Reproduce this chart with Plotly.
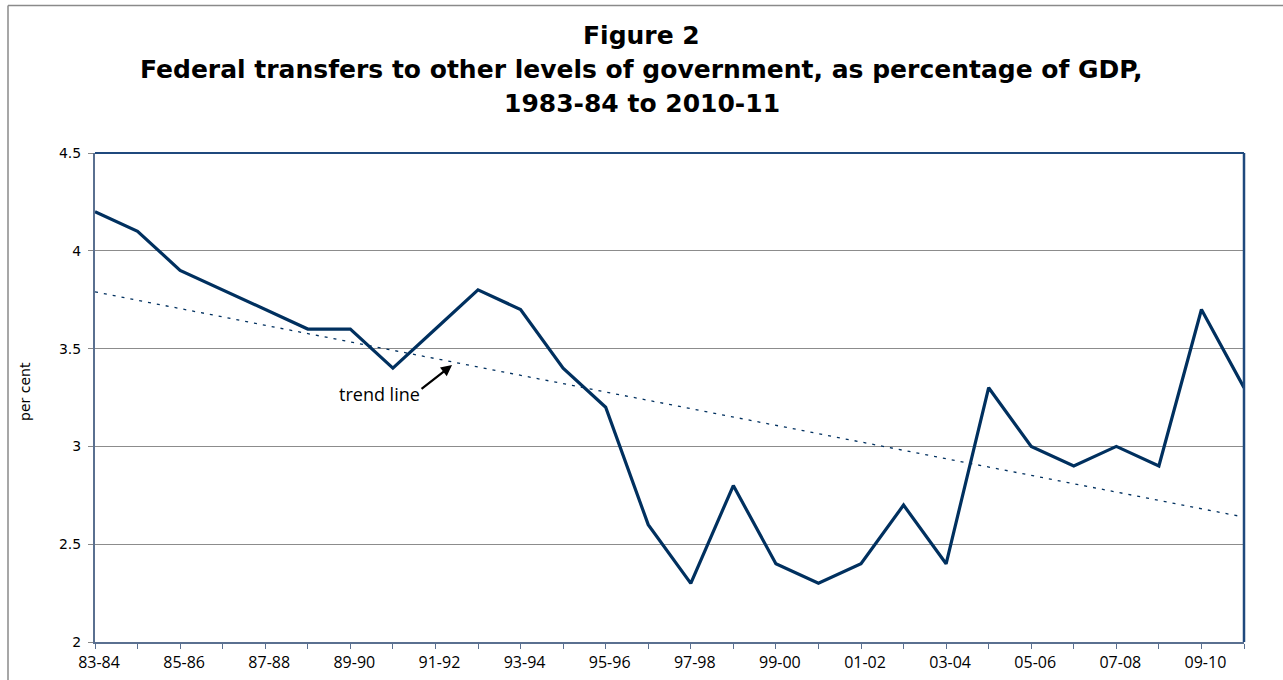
import numpy as np
import plotly.graph_objects as go

# Fiscal years 1983-84 .. 2010-11
years = ["83-84", "84-85", "85-86", "86-87", "87-88", "88-89", "89-90", "90-91",
         "91-92", "92-93", "93-94", "94-95", "95-96", "96-97", "97-98", "98-99",
         "99-00", "00-01", "01-02", "02-03", "03-04", "04-05", "05-06", "06-07",
         "07-08", "08-09", "09-10", "10-11"]

# Federal transfers to other governments, % of GDP
transfers = [4.2, 4.1, 3.9, 3.8, 3.7, 3.6, 3.6, 3.4, 3.6, 3.8, 3.7, 3.4, 3.2, 2.6,
             2.3, 2.8, 2.4, 2.3, 2.4, 2.7, 2.4, 3.3, 3.0, 2.9, 3.0, 2.9, 3.7, 3.3]

y_ticks = [2, 2.5, 3, 3.5, 4, 4.5]

NAVY = "#00305f"
AXIS = "#5a7090"
BORDER = "#1f497d"

W, H = 1283, 680
L, R, T, B = 95, 39, 153, 38
PW, PH = W - L - R, H - T - B


def px_x(px):
    return (px - L) / PW


def px_y(py):
    return (H - B - py) / PH


xi = np.arange(len(years))
slope, intercept = np.polyfit(xi, transfers, 1)
trend = intercept + slope * xi

fig = go.Figure()
fig.add_trace(go.Scatter(x=xi, y=trend, mode="lines",
                         line=dict(color=NAVY, width=1.3, dash="3px,6px"),
                         hoverinfo="skip", showlegend=False))
fig.add_trace(go.Scatter(x=xi, y=transfers, mode="lines",
                         line=dict(color=NAVY, width=3.2), showlegend=False))

tick_text = [lab if i % 2 == 0 else "" for i, lab in enumerate(years)]

fig.update_layout(
    width=W, height=H,
    margin=dict(l=L, r=R, t=T, b=B),
    paper_bgcolor="white", plot_bgcolor="white",
    font=dict(family="Open Sans", color="black"),
    xaxis=dict(range=[0, len(years) - 1], tickmode="array", tickvals=list(xi),
               ticktext=tick_text, ticks="outside", ticklen=5, tickcolor=AXIS,
               showline=True, linecolor=AXIS, linewidth=2, showgrid=False,
               zeroline=False, tickfont=dict(family="Open Sans", size=16),
               ticklabelshift=4, automargin=False, fixedrange=True),
    yaxis=dict(range=[2, 4.5], tickmode="array", tickvals=y_ticks,
               ticktext=[f"{v:g}" for v in y_ticks], ticks="outside", ticklen=5,
               tickcolor="#888888", showline=True, linecolor=AXIS, linewidth=2,
               showgrid=True, gridcolor="#8c8c8c", gridwidth=1, zeroline=False,
               tickfont=dict(family="DejaVu Sans", size=14), ticklabelstandoff=4,
               automargin=False, fixedrange=True),
)

# Right and top frame of the plot area
fig.add_shape(type="line", xref="paper", yref="paper", x0=0, x1=1, y0=1, y1=1,
              line=dict(color=BORDER, width=2))
fig.add_shape(type="line", xref="paper", yref="paper", x0=1, x1=1, y0=0, y1=1,
              line=dict(color=BORDER, width=2.5))

# Outer chart frame (left and top edges)
fig.add_shape(type="line", xref="paper", yref="paper",
              x0=px_x(8), x1=1.1, y0=px_y(5.5), y1=px_y(5.5),
              line=dict(color="#8a8a8a", width=1.5))
fig.add_shape(type="line", xref="paper", yref="paper",
              x0=px_x(8), x1=px_x(8), y0=-0.2, y1=px_y(5.5),
              line=dict(color="#8a8a8a", width=1.5))

title_lines = ["Figure 2",
               "Federal transfers to other levels of government, as percentage of GDP,",
               "1983-84 to 2010-11"]
title_y = [35, 69, 103]
for txt, py in zip(title_lines, title_y):
    fig.add_annotation(text=f"<b>{txt}</b>", xref="paper", yref="paper",
                       x=px_x(641.5), y=px_y(py),
                       showarrow=False, xanchor="center", yanchor="middle",
                       font=dict(family="DejaVu Sans", size=25, color="black"))

# Y-axis label
fig.add_annotation(text="per cent", xref="paper", yref="paper",
                   x=px_x(25), y=px_y(392), textangle=-90,
                   showarrow=False, xanchor="center", yanchor="middle",
                   font=dict(family="DejaVu Sans", size=14, color="black"))

# Trend line callout
fig.add_annotation(text="trend line", xref="paper", yref="paper",
                   x=px_x(379), y=px_y(394),
                   showarrow=False, xanchor="center", yanchor="middle",
                   font=dict(family="Open Sans", size=18, color="black"))
fig.add_annotation(text="", x=8.39, y=3.416, xref="x", yref="y",
                   showarrow=True, arrowhead=2, arrowsize=1, arrowwidth=2.2,
                   arrowcolor="black", ax=-32, ay=25)

fig.write_html("out.html")
